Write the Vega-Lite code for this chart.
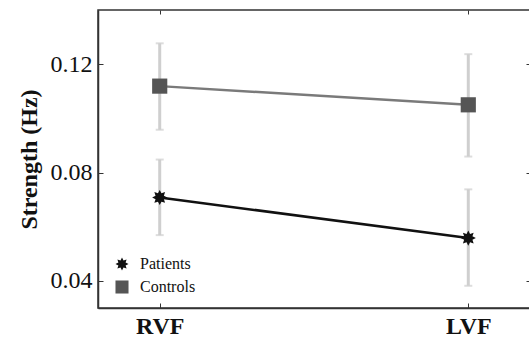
{
  "$schema": "https://vega.github.io/schema/vega-lite/v6.json",
  "width": 432,
  "height": 298,
  "autosize": "none",
  "padding": {"left": 98, "top": 10, "right": 0, "bottom": 31},
  "background": "white",
  "config": {
    "view": {"stroke": "#333", "strokeWidth": 1.5},
    "axis": {"labelFont": "Liberation Serif", "titleFont": "Liberation Serif", "labelColor": "#111", "titleColor": "#111", "domainColor": "#333", "tickColor": "#333", "grid": false, "labelFontSize": 24, "titleFontSize": 24, "titleFontWeight": "bold"},
    "axisX": {"labelFontWeight": "bold"},
    "legend": {"labelFont": "'Liberation Serif', 'DejaVu Serif', serif", "labelFontSize": 16, "labelColor": "#111"}
  },
  "data": {"values": [
    {"group": "Patients", "field": "RVF", "mean": 0.0708, "lo": 0.0569, "hi": 0.0848},
    {"group": "Patients", "field": "LVF", "mean": 0.0558, "lo": 0.0382, "hi": 0.0738},
    {"group": "Controls", "field": "RVF", "mean": 0.1119, "lo": 0.0958, "hi": 0.1277},
    {"group": "Controls", "field": "LVF", "mean": 0.105, "lo": 0.0859, "hi": 0.1237}
  ]},
  "layer": [
    {
      "mark": {"type": "rule", "color": "#cfcfcf", "strokeWidth": 3},
      "encoding": {
        "x": {"field": "field", "type": "nominal", "scale": {"type": "point", "domain": ["RVF", "LVF"], "padding": 0.2}, "axis": {"orient": "bottom", "title": null, "labelAngle": 0, "labelFont": "Liberation Serif", "labelFontSize": 24, "labelFontWeight": "bold", "tickSize": -5, "labelPadding": 11, "domainWidth": 1.5}},
        "y": {"field": "lo", "type": "quantitative", "scale": {"domain": [0.03, 0.14], "nice": false, "zero": false}, "axis": {"orient": "left", "values": [0.04, 0.08, 0.12], "format": ".2f", "title": "Strength (Hz)", "titleFont": "Liberation Serif", "titleFontSize": 24, "titleFontWeight": "bold", "titlePadding": 9, "labelFont": "Liberation Serif", "labelFontSize": 24, "tickSize": -5, "labelPadding": 11, "domainWidth": 1.5}},
        "y2": {"field": "hi"}
      }
    },
    {
      "mark": {"type": "tick", "color": "#cfcfcf", "size": 8, "thickness": 2},
      "encoding": {
        "x": {"field": "field", "type": "nominal", "axis": {"orient": "top", "title": null, "labels": false, "tickSize": -4, "domain": false}},
        "y": {"field": "lo", "type": "quantitative", "axis": {"orient": "right", "values": [0.04, 0.08, 0.12], "labels": false, "title": null, "tickSize": -4, "domain": false}}
      }
    },
    {
      "mark": {"type": "tick", "color": "#cfcfcf", "size": 8, "thickness": 2},
      "encoding": {
        "x": {"field": "field", "type": "nominal", "axis": null},
        "y": {"field": "hi", "type": "quantitative", "axis": null}
      }
    },
    {
      "mark": {"type": "line", "strokeWidth": 2.5},
      "encoding": {
        "x": {"field": "field", "type": "nominal", "axis": null},
        "y": {"field": "mean", "type": "quantitative", "axis": null},
        "detail": {"field": "group", "type": "nominal"},
        "stroke": {"condition": {"test": "datum.group === 'Patients'", "value": "#111111"}, "value": "#7a7a7a"}
      }
    },
    {
      "mark": {"type": "point", "filled": true, "opacity": 1, "size": 230},
      "encoding": {
        "x": {"field": "field", "type": "nominal", "axis": null},
        "y": {"field": "mean", "type": "quantitative", "axis": null},
        "fill": {"field": "group", "type": "nominal", "scale": {"domain": ["Patients", "Controls"], "range": ["#111111", "#555555"]}, "legend": {"orient": "none", "legendX": 16, "legendY": 246, "title": null, "symbolSize": 170, "rowPadding": 3, "labelOffset": 10}},
        "shape": {"field": "group", "type": "nominal", "scale": {"domain": ["Patients", "Controls"], "range": ["M1,0L0.55,0.23L0.707,0.707L0.23,0.55L0,1L-0.23,0.55L-0.707,0.707L-0.55,0.23L-1,0L-0.55,-0.23L-0.707,-0.707L-0.23,-0.55L0,-1L0.23,-0.55L0.707,-0.707L0.55,-0.23Z", "square"]}, "legend": {"orient": "none", "legendX": 16, "legendY": 246, "title": null, "symbolSize": 170, "rowPadding": 3, "labelOffset": 10}}
      }
    }
  ],
  "resolve": {"axis": {"x": "independent", "y": "independent"}}
}
